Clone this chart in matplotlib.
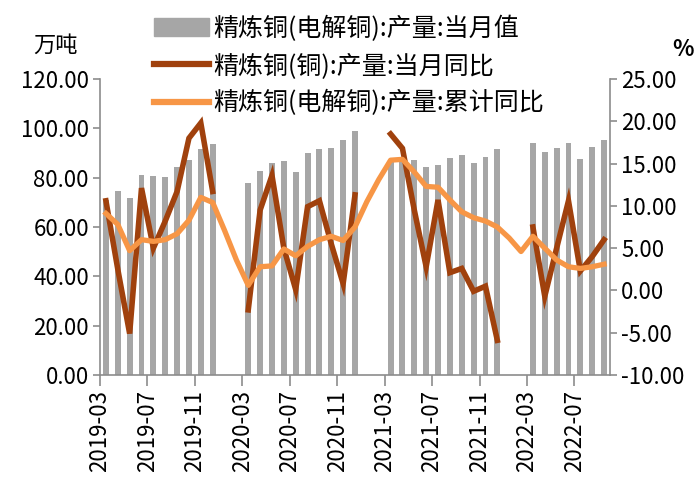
import numpy as np
import matplotlib
matplotlib.use("Agg")
import matplotlib.pyplot as plt
from matplotlib.patches import Patch
from matplotlib.lines import Line2D

plt.rcParams['font.family'] = ['Noto Sans CJK SC', 'DejaVu Sans']

# monthly categories 2019-03 .. 2022-09
months = [f"{y}-{m:02d}" for y in range(2019, 2023) for m in range(1, 13)]
months = months[2:months.index("2022-09") + 1]

nan = np.nan
# 精炼铜(电解铜):产量:当月值 (万吨)
output = [71.0, 74.5, 71.7, 81.0, 80.6, 80.4, 84.5, 87.2, 91.5, 93.6,
          nan, nan, 77.7, 82.7, 86.1, 86.6, 82.2, 90.1, 91.5, 92.0, 95.1, 98.9,
          nan, nan, 87.0, 88.0, 87.2, 84.2, 85.1, 88.1, 89.2, 86.1, 88.4, 91.5,
          nan, nan, 94.2, 90.5, 91.9, 93.9, 87.6, 92.3, 95.3]
# 精炼铜(铜):产量:当月同比 (%)
yoy = [10.6, 2.5, -5.1, 12.1, 5.0, 8.2, 11.7, 18.0, 19.8, 11.7,
       nan, nan, -2.3, 9.5, 13.6, 5.0, 0.1, 9.9, 10.6, 5.5, 0.8, 11.3,
       nan, nan, 18.5, 16.8, 9.5, 2.8, 10.7, 2.1, 2.6, -0.1, 0.5, -5.9,
       nan, nan, 7.5, -0.7, 5.0, 10.6, 2.3, 4.0, 6.0]
# 精炼铜(电解铜):产量:累计同比 (%)
ytd = [9.1, 7.8, 4.7, 6.0, 5.8, 6.0, 6.7, 8.3, 11.0, 10.4,
       7.1, 3.6, 0.6, 2.8, 2.9, 4.9, 4.1, 5.2, 6.0, 6.4, 5.9, 7.5,
       10.5, 13.1, 15.4, 15.5, 14.0, 12.3, 12.2, 10.7, 9.3, 8.6, 8.2, 7.5,
       6.2, 4.6, 6.4, 5.0, 3.6, 2.8, 2.6, 2.8, 3.1]

labels = ["精炼铜(电解铜):产量:当月值", "精炼铜(铜):产量:当月同比", "精炼铜(电解铜):产量:累计同比"]
c_bar, c_yoy, c_ytd = "#A6A6A6", "#A0410D", "#F79646"
axis_gray = "#8C8C8C"

x = np.arange(len(months))

fig = plt.figure(figsize=(6.98, 4.79), dpi=100)
ax = fig.add_axes([100/698, 1 - 375/479, 510/698, 296/479])
ax.bar(x, output, width=0.5, color=c_bar)
ax.set_xlim(-0.5, len(months) - 0.5)
ax.set_ylim(0, 120)
ax.set_yticks(np.arange(0, 121, 20))
ax.set_yticklabels([f"{v:.2f}" for v in np.arange(0, 121, 20)])

ax2 = ax.twinx()
ax2.plot(x, yoy, color=c_yoy, lw=4, solid_joinstyle='miter')
ax2.plot(x, ytd, color=c_ytd, lw=3.8)
ax2.set_ylim(-10, 25)
ax2.set_yticks(np.arange(-10, 26, 5))
ax2.set_yticklabels([f"{v:.2f}" for v in np.arange(-10, 26, 5)])

tick_idx = np.arange(0, len(months), 4)
ax.set_xticks(tick_idx - 0.5)
ax.set_xticklabels([months[i] for i in tick_idx], rotation=90)

for a in (ax, ax2):
    a.spines['top'].set_visible(False)
    for s in ('left', 'right', 'bottom'):
        a.spines[s].set_color(axis_gray)
        a.spines[s].set_linewidth(1.2)
    a.tick_params(axis='y', direction='out', length=5, width=1.2,
                  color=axis_gray, labelsize=16, pad=3)
ax.tick_params(axis='x', direction='out', length=8, width=1.2,
               color=axis_gray, labelsize=16, pad=3)
ax.spines['right'].set_visible(False)
ax2.spines['left'].set_visible(False)
ax2.spines['bottom'].set_visible(False)

fig.text(55/698, 1 - 45/479, "万吨", fontsize=16, ha='center', va='center')
fig.text(683/698, 1 - 50/479, "%", fontsize=16, fontweight='bold',
         ha='center', va='center')

handles = [Patch(color=c_bar),
           Line2D([], [], color=c_yoy, lw=4.5),
           Line2D([], [], color=c_ytd, lw=4.5)]
fig.legend(handles, labels, loc='upper left',
           bbox_to_anchor=(136/698, 1 + 2/479), frameon=False,
           fontsize=18, handlelength=2.2, handletextpad=0.2,
           labelspacing=0.45, borderpad=0.2)

fig.savefig("out.png", dpi=100)
